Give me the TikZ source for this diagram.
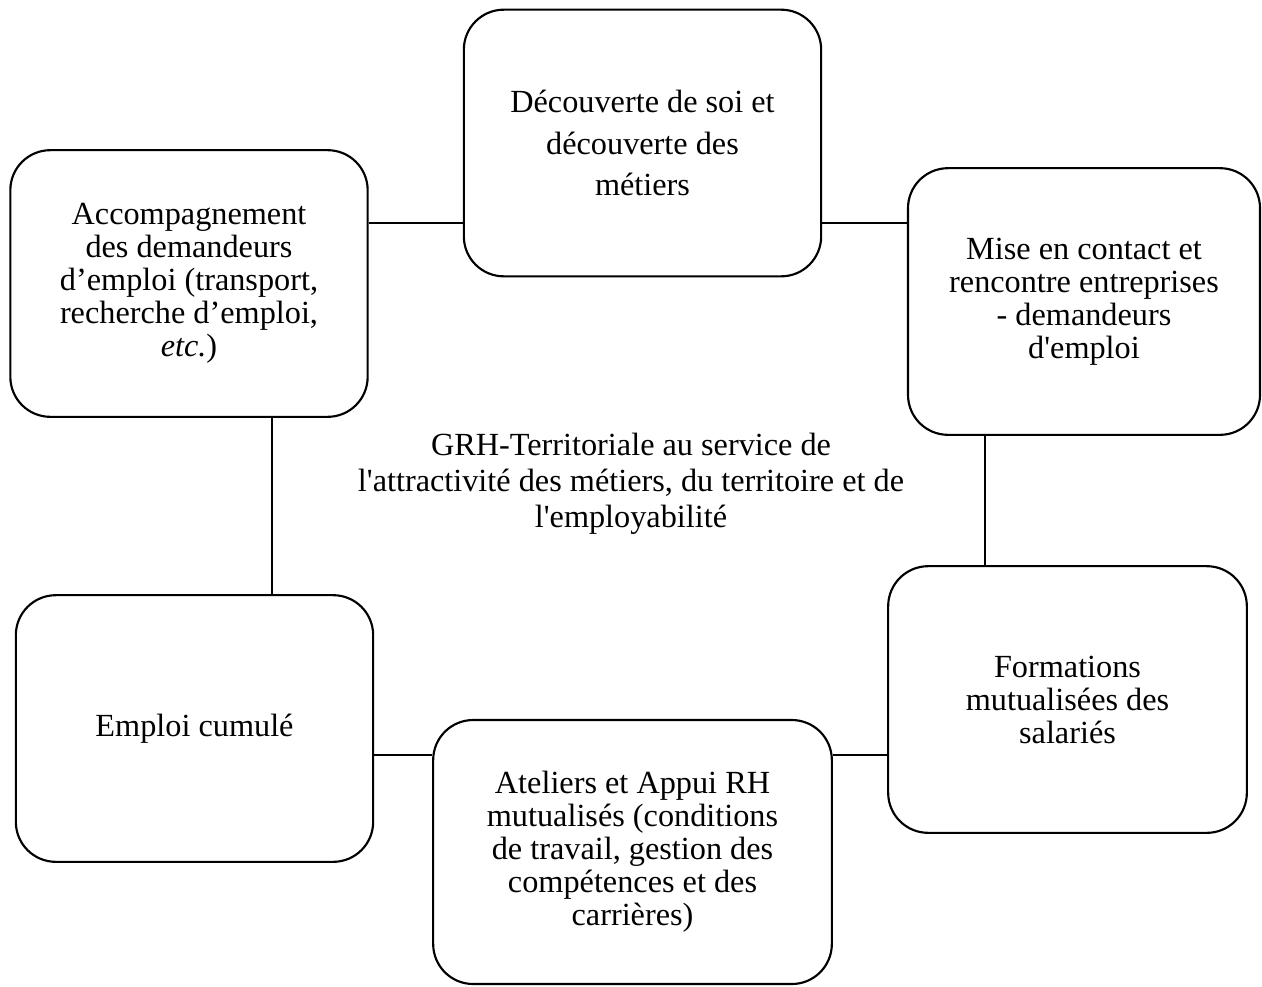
\documentclass[tikz,border=0pt]{standalone}
\usepackage{fontspec}
\setmainfont{Liberation Serif}[Ligatures=TeXOff]
\begin{document}
\begin{tikzpicture}[x=0.75pt,y=-0.75pt,
        boite/.style={draw,line width=1.6pt,rounded corners=30pt,align=center,
            inner sep=0pt,minimum width=268pt,minimum height=200pt,
            font=\fontsize{24.2}{24.75}\selectfont},
        lien/.style={line width=1.6pt}]
    \useasboundingbox (0,0) rectangle (1262,986);
    \node[boite] (acc) at (189,283.5)
        {Accompagnement\\des demandeurs\\d’emploi (transport,\\recherche d’emploi,\\\emph{etc.})};
    \node[boite,font=\fontsize{24.2}{31}\selectfont] (disc) at (642.5,143)
        {Découverte de soi et\\découverte des\\métiers};
    \node[boite,minimum width=264pt] (mise) at (1084,301.5)
        {Mise en contact et\\rencontre entreprises\\- demandeurs\\d'emploi};
    \node[boite,minimum width=269pt] (form) at (1067.5,699.5)
        {Formations\\mutualisées des\\salariés};
    \node[boite] (cumul) at (194.5,728.5) {Emploi cumulé};
    \node[boite,minimum width=299pt,minimum height=198pt] (atel) at (632.5,852)
        {Ateliers et Appui RH\\mutualisés (conditions\\de travail, gestion des\\compétences et des\\carrières)};
    \node[align=center,inner sep=0pt,font=\fontsize{24.2}{27}\selectfont]
        (titre) at (631,484) {GRH-Territoriale au service de\\l'attractivité des métiers, du territoire et de\\l'employabilité};

    \draw[lien] (acc.east |- 0,223) -- (disc.west |- 0,223);
    \draw[lien] (disc.east |- 0,223) -- (mise.west |- 0,223);
    \draw[lien] (acc.south -| 272,0) -- (cumul.north -| 272,0);
    \draw[lien] (mise.south -| 985,0) -- (form.north -| 985,0);
    \draw[lien] (cumul.east |- 0,755) -- (atel.west |- 0,755);
    \draw[lien] (atel.east |- 0,755) -- (form.west |- 0,755);
\end{tikzpicture}
\end{document}
